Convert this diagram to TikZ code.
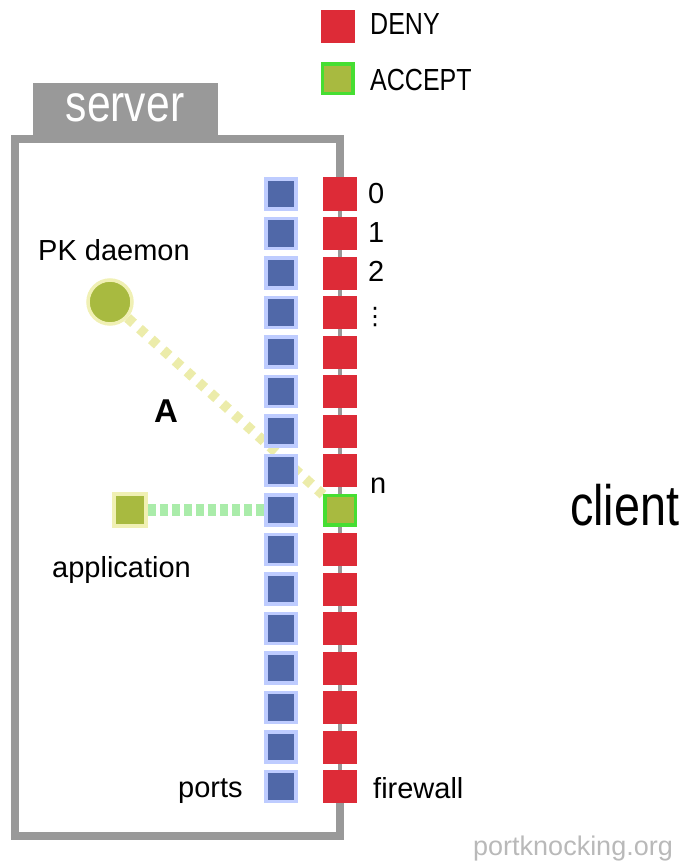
\documentclass[tikz,border=0pt]{standalone}
\usepackage{fontspec}
\setmainfont{Liberation Sans}
\newfontfamily\dejavu{DejaVu Sans}
\newfontfamily\narrowfont[FakeStretch=0.82]{Liberation Sans}
\usetikzlibrary{backgrounds}
\definecolor{denyred}{RGB}{221,43,55}
\definecolor{portblue}{RGB}{80,104,168}
\definecolor{porthalo}{RGB}{190,204,255}
\definecolor{olivegreen}{RGB}{168,186,64}
\definecolor{palehalo}{RGB}{240,240,180}
\definecolor{acceptgreen}{RGB}{70,222,50}
\definecolor{framegray}{RGB}{153,153,153}
\definecolor{dashyellow}{RGB}{236,236,170}
\definecolor{dashgreen}{RGB}{170,236,170}
\definecolor{creditgray}{RGB}{185,185,185}
\begin{document}
\begin{tikzpicture}[x=1pt,y=-1pt,
  redsq/.style={rectangle, fill=denyred, minimum width=34pt, minimum height=33pt, inner sep=0pt},
  acceptsq/.style={rectangle, fill=olivegreen, draw=acceptgreen, line width=3.5pt, minimum width=30.5pt, minimum height=29.5pt, inner sep=0pt},
  bluesq/.style={rectangle, fill=portblue, draw=porthalo, line width=3.5pt, minimum size=30pt, inner sep=0pt},
  appsq/.style={rectangle, fill=olivegreen, draw=palehalo, line width=3.5pt, minimum size=32pt, inner sep=0pt},
  daemonc/.style={circle, fill=olivegreen, draw=palehalo, line width=3.5pt, minimum size=44pt, inner sep=0pt},
  lab/.style={font=\fontsize{29}{32}\selectfont, inner sep=0pt, anchor=base west},
  leglab/.style={font=\narrowfont\fontsize{30.5}{32}\selectfont, inner sep=0pt, anchor=base west},
  frameline/.style={draw=framegray, line width=8pt, line join=miter},
  fwline/.style={draw=framegray, line width=4pt},
  knock/.style={draw=dashyellow, line width=10pt, dash pattern=on 8pt off 8pt},
  applink/.style={draw=dashgreen, line width=12pt, dash pattern=on 8pt off 4pt}]
\useasboundingbox (0,0) rectangle (685,861);

% legend
\node[redsq] (legdeny) at (337.5,27) {};
\node[acceptsq] (legacc) at (337.5,79) {};
\node[leglab] (tdeny) at (370,35) {DENY};
\node[leglab] (tacc) at (370,91) {ACCEPT};

% server tab
\node[rectangle, fill=framegray, minimum width=185pt, minimum height=56pt, inner sep=0pt,
      anchor=north west] (tab) at (33,83) {};
\node[inner sep=0pt, anchor=base, text=white, font=\narrowfont\fontsize{52}{56}\selectfont] (tserver) at (125,122) {server};

% ports and firewall rows
\foreach \i in {0,...,15}{
  \node[bluesq] (p\i) at (281,{194+39.5*\i}) {};
  \ifnum\i=8
    \node[acceptsq] (f\i) at (340,{194+39.5*\i}) {};
  \else
    \node[redsq] (f\i) at (340,{194+39.5*\i}) {};
  \fi
}

\coordinate (tl) at (15,139);
\coordinate (bl) at (15,836);

% daemon and application
\node[daemonc] (daemon) at (110,302) {};
\node[appsq] (app) at (130,510) {};

\begin{scope}[on background layer]
  \draw[frameline] (f0.north) |- (tl) -- (bl) -| (f15.south);
  \draw[fwline] (f0) -- (f15);
  \draw[knock] (daemon) -- (f8);
  \draw[applink] (app) -- (p8);
\end{scope}

% labels
\node[lab] (tpk) at (38,260) {PK daemon};
\node[lab] (tapp) at (52,577) {application};
\node[lab] (tports) at (178,797) {ports};
\node[lab] (tfw) at (373,798) {firewall};
\node[lab] (t0) at (368,203) {0};
\node[lab] (t1) at (368,242) {1};
\node[lab] (t2) at (368,281) {2};
\node[inner sep=0pt, font=\dejavu\fontsize{24}{24}\selectfont] (tdots) at (375,317) {⋮};
\node[lab] (tn) at (370,493) {n};
\node[inner sep=0pt, font=\bfseries\fontsize{33}{36}\selectfont] (tA) at (166,411) {A};
\node[inner sep=0pt, anchor=base west, font=\narrowfont\fontsize{57}{60}\selectfont] (tclient) at (570,525) {client};
\node[inner sep=0pt, anchor=base west, text=creditgray, font=\fontsize{27}{30}\selectfont] (tcredit) at (473,855) {portknocking.org};
\end{tikzpicture}
\end{document}
